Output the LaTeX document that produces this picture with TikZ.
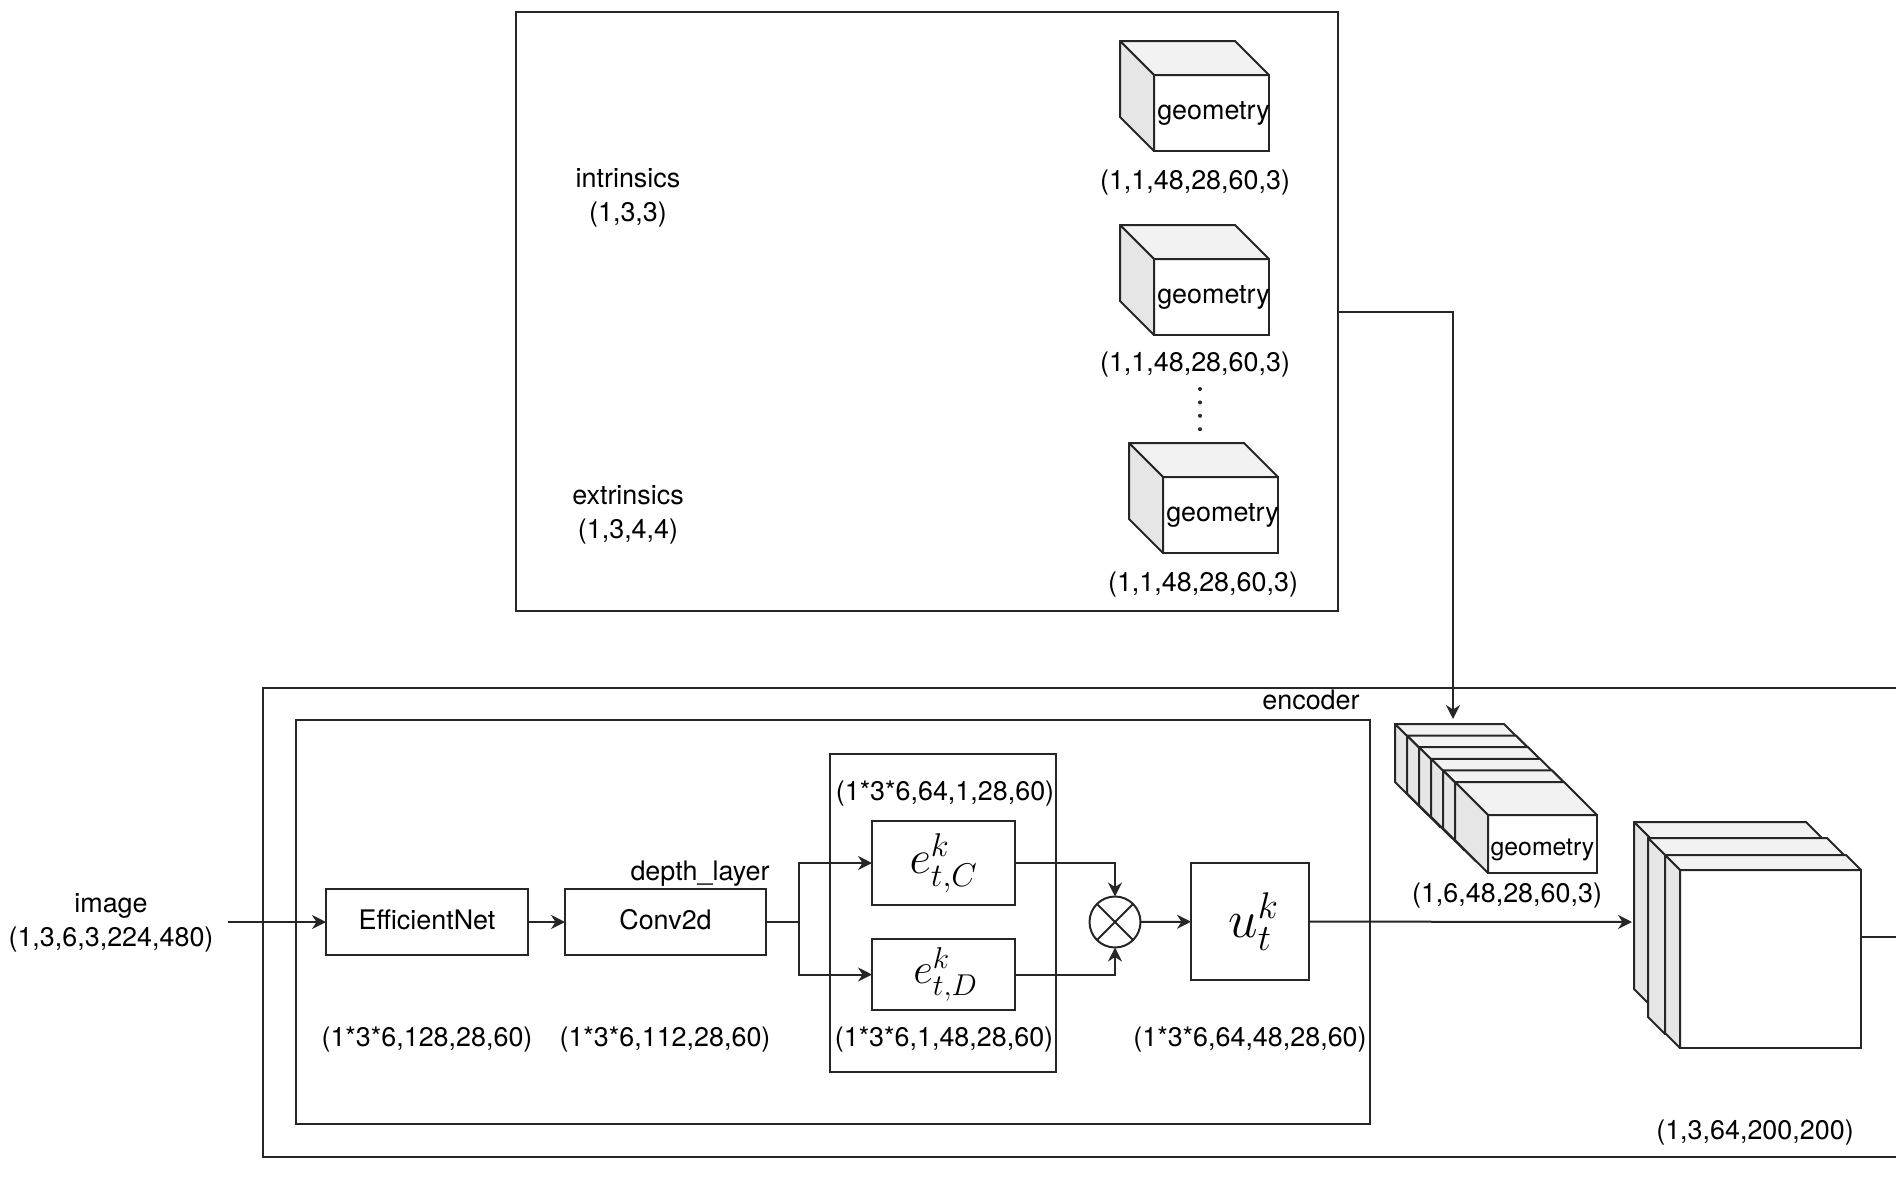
\documentclass[tikz,border=0pt]{standalone}
\usepackage{fix-cm}
\usepackage{amsmath, amssymb}
\usepackage{fontspec}
\setmainfont{TeX Gyre Heros}
\usetikzlibrary{arrows.meta}

\definecolor{topface}{HTML}{F2F2F2}
\definecolor{sideface}{HTML}{E6E6E6}

\tikzset{
    every node/.style={font=\fontsize{26.9}{34}\selectfont, inner sep=0pt, outer sep=0pt},
    layerbox/.style={rectangle, draw=black!85, line width=2pt},
    cubefront/.style={rectangle, draw=black!85, fill=white, line width=2pt, anchor=north west},
    cubeface/.style={draw=black!85, line width=2pt, line join=round},
    wire/.style={draw=black!85, line width=2pt},
    flow/.style={wire, -{Stealth[length=14pt,width=14pt]}}
}

% name, x, y, width, height, depth, text
\newcommand{\drawcube}[7]{
    \node[cubefront, minimum width=#4pt, minimum height=#5pt] (#1) at (#2,#3) {#7};
    \draw[cubeface, fill=topface] (#1.north west) -- ++(-#6,-#6) -- ++(#4,0) -- (#1.north east) -- cycle;
    \draw[cubeface, fill=sideface] (#1.north west) -- ++(-#6,-#6) -- ++(0,#5) -- (#1.south west) -- cycle;
}

\begin{document}
\begin{tikzpicture}[x=1pt, y=-1pt]
    \useasboundingbox (0,0) rectangle (1896,1192);

    % Top box
    \node[layerbox, minimum width=822pt, minimum height=599pt] (camera) at (927,311.5) {};
    \node[align=center] (intrinsics) at (628,197.5) {intrinsics\\(1,3,3)};
    \node[align=center] (extrinsics) at (628,514.5) {extrinsics\\(1,3,4,4)};

    % Geometry cubes
    \drawcube{geoa}{1154}{75}{115}{76}{34}{\makebox[115pt]{\kern4pt geometry}}
    \drawcube{geob}{1154}{259}{115}{76}{34}{\makebox[115pt]{\kern4pt geometry}}
    \drawcube{geoc}{1163}{477}{115}{76}{34}{\makebox[115pt]{\kern4pt geometry}}
    \node (geoalabel) at (1195,182.5) {(1,1,48,28,60,3)};
    \node (geoblabel) at (1195,365) {(1,1,48,28,60,3)};
    \node (geoclabel) at (1203,584.5) {(1,1,48,28,60,3)};
    \coordinate (dotstop) at (1200,389);
    \coordinate (dotsend) at (1200,430);
    \draw[wire, line width=4pt, line cap=round, dash pattern=on 0pt off 13.4pt] (dotstop) -- (dotsend);

    % Encoder frame
    \coordinate (enctr) at (1896,688);
    \coordinate (enctl) at (263,688);
    \coordinate (encbl) at (263,1157);
    \coordinate (encbr) at (1896,1157);
    \draw[wire] (enctr) -- (enctl) -- (encbl) -- (encbr);
    \node (encoder) at (1311,700) {encoder};
    \node[layerbox, minimum width=1074pt, minimum height=404pt] (depthnet) at (833,922) {};
    \node[layerbox, minimum width=226pt, minimum height=318pt] (lift) at (943,913) {};

    % Blocks
    \node[align=center] (image) at (111,923) {image\\(1,3,6,3,224,480)};
    \coordinate (imagein) at (228,922);
    \node[layerbox, minimum width=202pt, minimum height=66pt, text depth=5pt] (effnet) at (427,922) {EfficientNet};
    \node[layerbox, minimum width=201pt, minimum height=66pt, text depth=5pt] (conv) at (665.5,922) {Conv2d};
    \node (depthlayer) at (700,873.5) {depth\_layer};
    \node[layerbox, minimum width=143pt, minimum height=84pt] (ec) at (943.5,863) {\fontsize{47}{50}\selectfont $e_{t,C}^{k}$};
    \node[layerbox, minimum width=143pt, minimum height=71pt] (ed) at (943.5,974.5) {\kern4pt\fontsize{43}{46}\selectfont $e_{t,D}^{k}$};
    \node[circle, draw=black!85, line width=2pt, minimum size=51pt] (otimes) at (1115,922) {};
    \node[layerbox, minimum width=118pt, minimum height=117pt] (ut) at (1250,921.5) {\kern7pt\fontsize{53}{56}\selectfont $u_{t}^{k}$};
    \coordinate (split) at (799,922);

    % Shape labels
    \node (effshape) at (427,1039.5) {(1*3*6,128,28,60)};
    \node (convshape) at (665,1039.5) {(1*3*6,112,28,60)};
    \node (ecshape) at (945,793.5) {(1*3*6,64,1,28,60)};
    \node (edshape) at (944,1040) {(1*3*6,1,48,28,60)};
    \node (utshape) at (1250,1039.5) {(1*3*6,64,48,28,60)};

    % Geometry stack
    \drawcube{stacka}{1428}{757}{109}{58}{33}{}
    \drawcube{stackb}{1440}{768.6}{109}{58}{33}{}
    \drawcube{stackc}{1452}{780.2}{109}{58}{33}{}
    \drawcube{stackd}{1464}{791.8}{109}{58}{33}{}
    \drawcube{stacke}{1476}{803.4}{109}{58}{33}{}
    \drawcube{stackf}{1488}{815}{109}{58}{33}{\rule{0pt}{28pt}\fontsize{24.8}{30}\selectfont geometry}
    \node (stacklabel) at (1507,895.5) {(1,6,48,28,60,3)};
    \coordinate (stacktop) at (1453,719);

    % BEV stack
    \drawcube{beva}{1650}{838}{172}{167}{16}{}
    \drawcube{bevb}{1665}{855}{179}{179}{17}{}
    \drawcube{bevc}{1680}{870}{181}{178}{15}{}
    \node (bevlabel) at (1755,1132.5) {(1,3,64,200,200)};
    \coordinate (bevin) at (1632,922);
    \coordinate (bevout) at (1861,937);
    \coordinate (bevend) at (1896,937);

    % Draw connections
    \draw[wire] (otimes.45) -- (otimes.225);
    \draw[wire] (otimes.135) -- (otimes.315);
    \draw[flow] (imagein) -- (effnet);
    \draw[flow] (effnet) -- (conv);
    \draw[wire] (conv) -- (split);
    \draw[flow] (split) |- (ec);
    \draw[flow] (split) |- (ed);
    \draw[flow] (ec) -| (otimes);
    \draw[flow] (ed) -| (otimes);
    \draw[flow] (otimes) -- (ut);
    \draw[flow] (ut) -- (bevin);
    \draw[wire] (bevout) -- (bevend);
    \draw[flow] (camera) -| (stacktop);
\end{tikzpicture}
\end{document}
